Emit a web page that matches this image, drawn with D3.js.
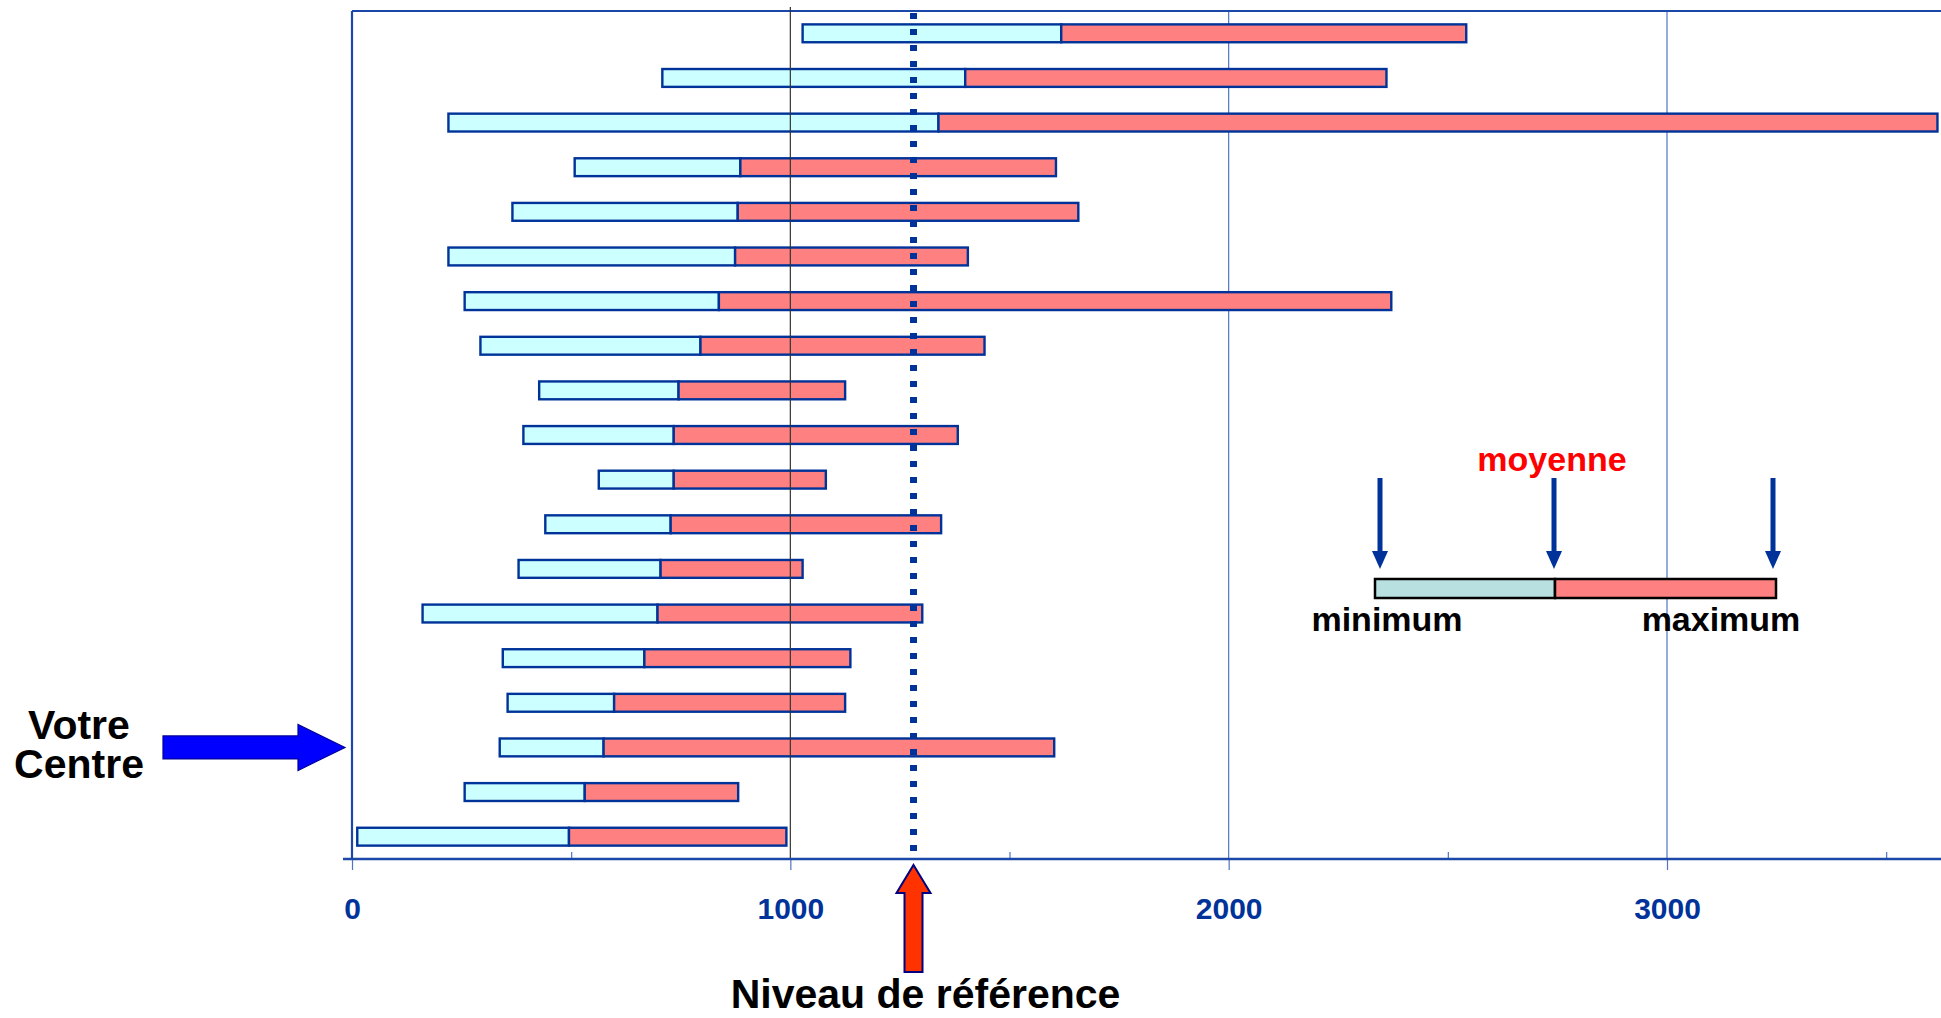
<!DOCTYPE html>
<html>
<head>
<meta charset="utf-8">
<script src="https://cdnjs.cloudflare.com/ajax/libs/d3/7.8.5/d3.min.js"></script>
<style>
  html, body { margin: 0; padding: 0; background: #ffffff; }
  svg { display: block; }
  text { font-family: "Liberation Sans", Arial, Helvetica, sans-serif; font-weight: bold; }
</style>
</head>
<body>
<svg id="chart" width="1941" height="1018"></svg>
<script>
// ---- data ----
const categories = ["C1","C2","C3","C4","C5","C6","C7","C8","C9","C10",
                    "C11","C12","C13","C14","C15","C16","Votre Centre","C18","C19"];
const minimums = [1028, 708, 220, 508, 366, 220, 257, 293, 427, 391, 563, 441, 380, 161, 344, 355, 337, 257, 12];
const moyennes = [1618, 1399, 1338, 886, 880, 874, 837, 795, 745, 734, 734, 727, 704, 697, 667, 598, 574, 531, 495];
const maximums = [2542, 2360, 3617, 1606, 1657, 1405, 2371, 1443, 1125, 1382, 1081, 1344, 1028, 1301, 1137, 1125, 1602, 881, 991];
const niveauReference = 1281;
const votreCentre = "Votre Centre";
const majorTicks = [0, 1000, 2000, 3000];
const minorTicks = [500, 1500, 2500, 3500];
const tickLabels = ["0", "1000", "2000", "3000"];

const rows = categories.map((c, i) => ({cat: c, min: minimums[i], moy: moyennes[i], max: maximums[i]}));

// ---- layout ----
const W = 1941;
const plotLeft = 352, plotTop = 11, plotBottom = 859;
const svg = d3.select("#chart");

const x = d3.scaleLinear().domain([0, 3000]).range([plotLeft, 1667]);
const y = d3.scaleBand().domain(categories).range([plotTop, plotBottom]).paddingInner(0.6).paddingOuter(0.3);

const blue = "#003399";
const frameBlue = "#1a47a8";

// gridlines (2000, 3000) behind bars
svg.append("g").selectAll("line")
  .data(majorTicks.filter(d => d >= 2000))
  .join("line")
  .attr("x1", d => x(d)).attr("x2", d => x(d))
  .attr("y1", plotTop).attr("y2", plotBottom)
  .attr("stroke", "#4f74c4").attr("stroke-width", 1.2);

// frame (left + top)
svg.append("line").attr("x1", plotLeft).attr("x2", W).attr("y1", plotTop).attr("y2", plotTop)
  .attr("stroke", frameBlue).attr("stroke-width", 2.2);
svg.append("line").attr("x1", plotLeft).attr("x2", plotLeft).attr("y1", plotTop).attr("y2", plotBottom)
  .attr("stroke", frameBlue).attr("stroke-width", 2.2);

// bars
const bars = svg.append("g");
bars.selectAll("rect.lo").data(rows).join("rect").attr("class", "lo")
  .attr("x", d => x(d.min)).attr("width", d => x(d.moy) - x(d.min))
  .attr("y", d => y(d.cat)).attr("height", y.bandwidth())
  .attr("fill", "#ccffff").attr("stroke", blue).attr("stroke-width", 2.4);
bars.selectAll("rect.hi").data(rows).join("rect").attr("class", "hi")
  .attr("x", d => x(d.moy)).attr("width", d => x(d.max) - x(d.moy))
  .attr("y", d => y(d.cat)).attr("height", y.bandwidth())
  .attr("fill", "#ff8080").attr("stroke", blue).attr("stroke-width", 2.4);

// gridline at 1000 (dark, over bars)
svg.append("line").attr("x1", x(1000)).attr("x2", x(1000)).attr("y1", 7).attr("y2", plotBottom)
  .attr("stroke", "#333333").attr("stroke-width", 1.2);

// reference dotted line
svg.append("line")
  .attr("x1", x(niveauReference)).attr("x2", x(niveauReference))
  .attr("y1", 13).attr("y2", 853)
  .attr("stroke", blue).attr("stroke-width", 7)
  .attr("stroke-dasharray", "6,10");

// axis
const axisG = svg.append("g").attr("transform", `translate(0,${plotBottom})`)
  .call(d3.axisBottom(x).tickValues(majorTicks).tickSize(11).tickPadding(28)
        .tickFormat((d, i) => tickLabels[i]));
axisG.select(".domain").remove();
axisG.selectAll(".tick line").attr("stroke", "#4f74c4").attr("stroke-width", 1.2);
axisG.selectAll(".tick text").attr("fill", blue).attr("font-size", 30)
  .style("font-family", "'Liberation Sans', Arial, sans-serif").style("font-weight", "bold");

const minorG = svg.append("g").attr("transform", `translate(0,${plotBottom})`)
  .call(d3.axisTop(x).tickValues(minorTicks).tickSize(7).tickFormat(""));
minorG.select(".domain").remove();
minorG.selectAll(".tick line").attr("stroke", "#4f74c4").attr("stroke-width", 1.2);

svg.append("line").attr("x1", 343).attr("x2", W).attr("y1", plotBottom).attr("y2", plotBottom)
  .attr("stroke", frameBlue).attr("stroke-width", 2.4);

// Niveau de référence arrow
const rx = x(niveauReference);
const refArrow = [[rx, 865], [rx + 17, 893], [rx + 9, 893], [rx + 9, 972], [rx - 9, 972], [rx - 9, 893], [rx - 17, 893]];
svg.append("polygon").attr("points", refArrow.map(p => p.join(",")).join(" "))
  .attr("fill", "#ff3300").attr("stroke", "#000080").attr("stroke-width", 2).attr("stroke-linejoin", "miter");
svg.append("text").attr("x", rx + 12).attr("y", 1008).attr("text-anchor", "middle")
  .attr("font-size", 41).attr("fill", "#000").text("Niveau de référence");

// Votre Centre arrow
const vy = y(votreCentre) + y.bandwidth() / 2;
const vArrow = [[345, vy], [298, vy - 23], [298, vy - 11.5], [163, vy - 11.5], [163, vy + 11.5], [298, vy + 11.5], [298, vy + 23]];
svg.append("polygon").attr("points", vArrow.map(p => p.join(",")).join(" "))
  .attr("fill", "#0000ff").attr("stroke", "#000099").attr("stroke-width", 1.2);
svg.append("text").attr("x", 79).attr("y", 739).attr("text-anchor", "middle")
  .attr("font-size", 41).attr("fill", "#000").text("Votre");
svg.append("text").attr("x", 79).attr("y", 778).attr("text-anchor", "middle")
  .attr("font-size", 41).attr("fill", "#000").text("Centre");

// legend
const lg = svg.append("g");
const lx0 = 1375, lxm = 1555, lx1 = 1776, ly = 579, lh = 19;
lg.append("rect").attr("x", lx0).attr("y", ly).attr("width", lxm - lx0).attr("height", lh)
  .attr("fill", "#b8e0e0").attr("stroke", "#000").attr("stroke-width", 2.5);
lg.append("rect").attr("x", lxm).attr("y", ly).attr("width", lx1 - lxm).attr("height", lh)
  .attr("fill", "#ff8080").attr("stroke", "#000").attr("stroke-width", 2.5);
[1380, 1554, 1773].forEach(ax => {
  lg.append("line").attr("x1", ax).attr("x2", ax).attr("y1", 478).attr("y2", 553)
    .attr("stroke", blue).attr("stroke-width", 5);
  lg.append("polygon").attr("points", `${ax - 8},551 ${ax + 8},551 ${ax},569`).attr("fill", blue);
});
lg.append("text").attr("x", 1552).attr("y", 471).attr("text-anchor", "middle")
  .attr("font-size", 34).attr("fill", "#ff0000").text("moyenne");
lg.append("text").attr("x", 1387).attr("y", 631).attr("text-anchor", "middle")
  .attr("font-size", 34).attr("fill", "#000").text("minimum");
lg.append("text").attr("x", 1721).attr("y", 631).attr("text-anchor", "middle")
  .attr("font-size", 34).attr("fill", "#000").text("maximum");
</script>
</body>
</html>
